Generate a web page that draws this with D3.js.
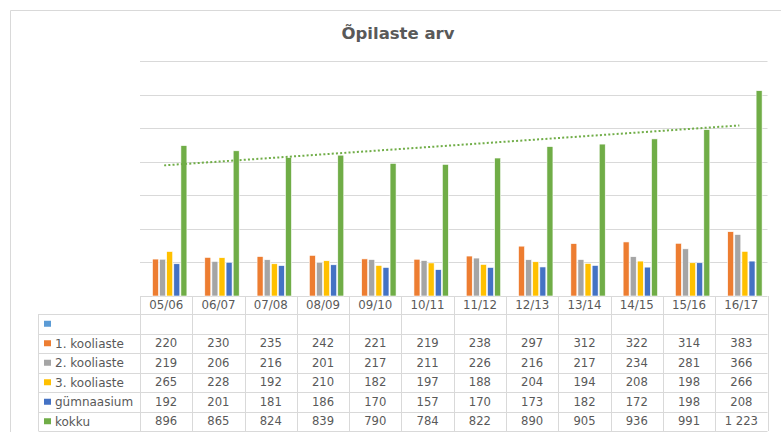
<!DOCTYPE html>
<html>
<head>
<meta charset="utf-8">
<script src="https://cdn.jsdelivr.net/npm/d3@7"></script>
<style>
  body { margin: 0; background: #fff; }
  svg { display: block; }
  text { font-family: "DejaVu Sans", Verdana, sans-serif; fill: #595959; }
</style>
</head>
<body>
<div id="main"></div>
<script>

var width = 781,
    height = 432;

// data
var years = ["05/06", "06/07", "07/08", "08/09", "09/10", "10/11", "11/12", "12/13", "13/14", "14/15", "15/16", "16/17"];
var seriesNames = ["", "1. kooliaste", "2. kooliaste", "3. kooliaste", "gümnaasium", "kokku"];
var seriesColors = ["#5B9BD5", "#ED7D31", "#A5A5A5", "#FFC000", "#4472C4", "#70AD47"];

var blank = [];
var kooliaste1 = [220, 230, 235, 242, 221, 219, 238, 297, 312, 322, 314, 383];
var kooliaste2 = [219, 206, 216, 201, 217, 211, 226, 216, 217, 234, 281, 366];
var kooliaste3 = [265, 228, 192, 210, 182, 197, 188, 204, 194, 208, 198, 266];
var gymnaasium = [192, 201, 181, 186, 170, 157, 170, 173, 182, 172, 198, 208];
var kokku = [896, 865, 824, 839, 790, 784, 822, 890, 905, 936, 991, 1223];

var yTicks = [0, 200, 400, 600, 800, 1000, 1200, 1400];

var series = [blank, kooliaste1, kooliaste2, kooliaste3, gymnaasium, kokku];

var GRID = "#D9D9D9";

var plotLeft = 140, plotRight = 767.5,
    plotTop = 61, plotBottom = 296;
var tableLeft = 38.5, rowH = 19.5, headerBottom = 314;

var svg = d3.select("div#main")
    .append("svg")
    .attr("width", width)
    .attr("height", height);

// chart frame
svg.append("path")
    .attr("d", "M10.5," + height + "V10.5H" + width)
    .attr("fill", "none")
    .attr("stroke", GRID);

svg.append("text")
    .attr("x", 398)
    .attr("y", 39)
    .attr("text-anchor", "middle")
    .style("font-size", "16.5px")
    .style("font-weight", "bold")
    .text("Õpilaste arv");

var x = d3.scaleBand()
    .domain(years)
    .range([plotLeft, plotRight]);

var xs = d3.scaleBand()
    .domain(d3.range(series.length))
    .range([0, x.bandwidth()])
    .paddingInner(0.155)
    .paddingOuter(0.76);

var y = d3.scaleLinear()
    .domain([0, 1400])
    .range([plotBottom, plotTop]);

svg.selectAll(".grid")
    .data(yTicks)
    .enter().append("line")
    .attr("class", "grid")
    .attr("x1", plotLeft)
    .attr("x2", plotRight)
    .attr("y1", function(d) { return Math.round(y(d)) + 0.5; })
    .attr("y2", function(d) { return Math.round(y(d)) + 0.5; })
    .attr("stroke", GRID);

// bars
var groups = svg.selectAll(".year")
    .data(years)
    .enter().append("g")
    .attr("class", "year")
    .attr("transform", function(d) { return "translate(" + x(d) + ",0)"; });

groups.selectAll("rect")
    .data(function(d, i) {
        return series.map(function(s, j) { return { s: j, v: s[i] }; })
            .filter(function(e) { return e.v != null; });
    })
    .enter().append("rect")
    .attr("x", function(d) { return xs(d.s); })
    .attr("width", xs.bandwidth())
    .attr("y", function(d) { return y(d.v); })
    .attr("height", function(d) { return y(0) - y(d.v); })
    .attr("fill", function(d) { return seriesColors[d.s]; })
    .attr("stroke", "#fff")
    .attr("stroke-width", 0.6);

// linear trendline for kokku
var n = kokku.length;
var mx = d3.mean(d3.range(1, n + 1)), my = d3.mean(kokku);
var sxy = d3.sum(kokku, function(v, i) { return (i + 1 - mx) * (v - my); });
var sxx = d3.sum(d3.range(1, n + 1), function(i) { return (i - mx) * (i - mx); });
var slope = sxy / sxx, icpt = my - slope * mx;

svg.append("line")
    .attr("x1", x(years[0]) + x.bandwidth() / 2 - 2)
    .attr("x2", x(years[n - 1]) + x.bandwidth() / 2 - 2)
    .attr("y1", y(icpt + slope * 1))
    .attr("y2", y(icpt + slope * n))
    .attr("stroke", "#70AD47")
    .attr("stroke-width", 2)
    .attr("stroke-dasharray", "2,2.2");

// data table
var fmt = d3.formatLocale({ decimal: ",", thousands: " ", grouping: [3], currency: ["", ""] }).format(",d");
var tableBottom = headerBottom + rowH * seriesNames.length;

svg.selectAll(".hline")
    .data(d3.range(seriesNames.length + 1))
    .enter().append("line")
    .attr("class", "hline")
    .attr("x1", tableLeft)
    .attr("x2", plotRight)
    .attr("y1", function(i) { return Math.round(headerBottom + i * rowH) + 0.5; })
    .attr("y2", function(i) { return Math.round(headerBottom + i * rowH) + 0.5; })
    .attr("stroke", GRID);

svg.selectAll(".vline")
    .data(years.map(function(d) { return x(d); }).concat([plotRight]))
    .enter().append("line")
    .attr("class", "vline")
    .attr("x1", function(d) { return Math.round(d) + 0.5; })
    .attr("x2", function(d) { return Math.round(d) + 0.5; })
    .attr("y1", plotBottom)
    .attr("y2", tableBottom)
    .attr("stroke", GRID);

svg.append("line")
    .attr("x1", tableLeft)
    .attr("x2", tableLeft)
    .attr("y1", headerBottom)
    .attr("y2", tableBottom)
    .attr("stroke", GRID);

svg.selectAll(".cat")
    .data(years)
    .enter().append("text")
    .attr("class", "cat")
    .attr("x", function(d) { return x(d) + x.bandwidth() / 2; })
    .attr("y", (plotBottom + headerBottom) / 2)
    .attr("dy", "0.36em")
    .attr("text-anchor", "middle")
    .style("font-size", "11.8px")
    .text(function(d) { return d; });

var rows = svg.selectAll(".row")
    .data(seriesNames)
    .enter().append("g")
    .attr("class", "row")
    .attr("transform", function(d, i) { return "translate(0," + (headerBottom + i * rowH + rowH / 2) + ")"; });

rows.append("rect")
    .attr("x", 44)
    .attr("y", -3)
    .attr("width", 7)
    .attr("height", 6)
    .attr("fill", function(d, i) { return seriesColors[i]; });

rows.append("text")
    .attr("x", 55)
    .attr("dy", "0.36em")
    .style("font-size", "12px")
    .text(function(d) { return d; });

rows.selectAll(".val")
    .data(function(d, i) { return series[i].map(function(v, j) { return { v: v, year: years[j] }; }); })
    .enter().append("text")
    .attr("class", "val")
    .attr("x", function(d) { return x(d.year) + x.bandwidth() / 2; })
    .attr("dy", "0.36em")
    .attr("text-anchor", "middle")
    .style("font-size", "11.6px")
    .text(function(d) { return fmt(d.v); });

</script>
</body>
</html>
